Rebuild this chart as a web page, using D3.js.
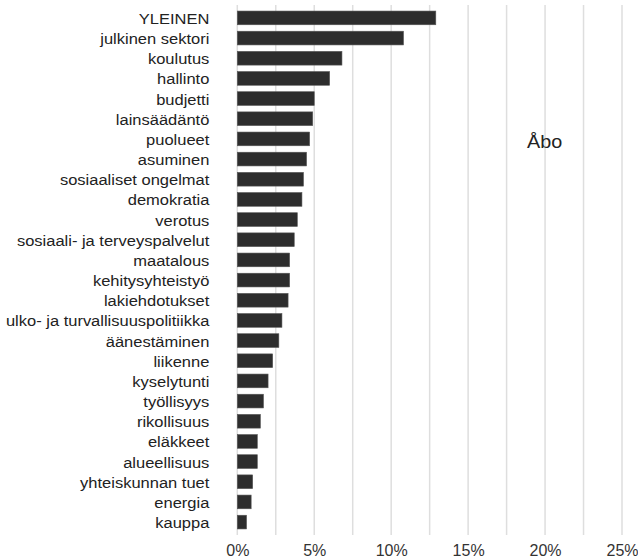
<!DOCTYPE html>
<html><head><meta charset="utf-8">
<script src="https://cdn.jsdelivr.net/npm/d3@7/dist/d3.min.js"></script>
<style>body{margin:0;background:#fff}svg{display:block}</style>
</head><body>
<script>
const categories = ["YLEINEN","julkinen sektori","koulutus","hallinto","budjetti","lainsäädäntö","puolueet","asuminen","sosiaaliset ongelmat","demokratia","verotus","sosiaali- ja terveyspalvelut","maatalous","kehitysyhteistyö","lakiehdotukset","ulko- ja turvallisuuspolitiikka","äänestäminen","liikenne","kyselytunti","työllisyys","rikollisuus","eläkkeet","alueellisuus","yhteiskunnan tuet","energia","kauppa"];
const values = [12.9,10.8,6.8,6.0,5.0,4.9,4.7,4.5,4.3,4.2,3.9,3.7,3.4,3.4,3.3,2.9,2.7,2.3,2.0,1.7,1.5,1.3,1.3,1.0,0.9,0.6];
const tickValues = [0,5,10,15,20,25];
const gridValues = [0,2.5,5,7.5,10,12.5,15,17.5,20,22.5,25];
const panelLabel = "Åbo";

const W = 638, H = 560;
const FONT = "Liberation Sans, Arial, sans-serif";
const SX = 1.1;
const svg = d3.select("body").append("svg").attr("width", W).attr("height", H);
const x = d3.scaleLinear().domain([0,25]).range([237.3, 622]);
const y = d3.scaleBand().domain(categories).range([5,535]).paddingInner(0.32).paddingOuter(0.3);

svg.append("g").selectAll("line").data(gridValues).join("line")
  .attr("x1", d=>x(d)).attr("x2", d=>x(d)).attr("y1", 5).attr("y2", 535)
  .attr("stroke", "#dedede").attr("stroke-width", 1.5);

svg.append("g").selectAll("rect").data(values).join("rect")
  .attr("x", x(0)).attr("y", (d,i)=>y(categories[i]))
  .attr("width", d=>x(d)-x(0)).attr("height", y.bandwidth())
  .attr("fill", "#2d2d2d").attr("stroke", "#555").attr("stroke-width", 0.6);

const yAxis = d3.axisLeft(y).tickSize(0).tickPadding(0);
const gy = svg.append("g").attr("transform", `translate(${x(0)},0)`).call(yAxis);
gy.select(".domain").remove();
gy.selectAll("text").attr("font-family", FONT).attr("font-size", 15).attr("fill","#222")
  .attr("x", -28/SX).attr("dy", "0.4em").attr("transform", `scale(${SX},1)`);

const xAxis = d3.axisBottom(x).tickValues(tickValues).tickFormat(d=>d+"%").tickSize(0).tickPadding(10);
const gx = svg.append("g").attr("transform", `translate(0,535)`).call(xAxis);
gx.select(".domain").remove();
gx.selectAll("text").attr("font-family", FONT).attr("font-size", 16).attr("fill","#333");

svg.append("text").attr("transform", `translate(527,148) scale(${SX},1)`).text(panelLabel)
  .attr("font-family", FONT).attr("font-size", 18).attr("fill","#222");
</script>
</body></html>
